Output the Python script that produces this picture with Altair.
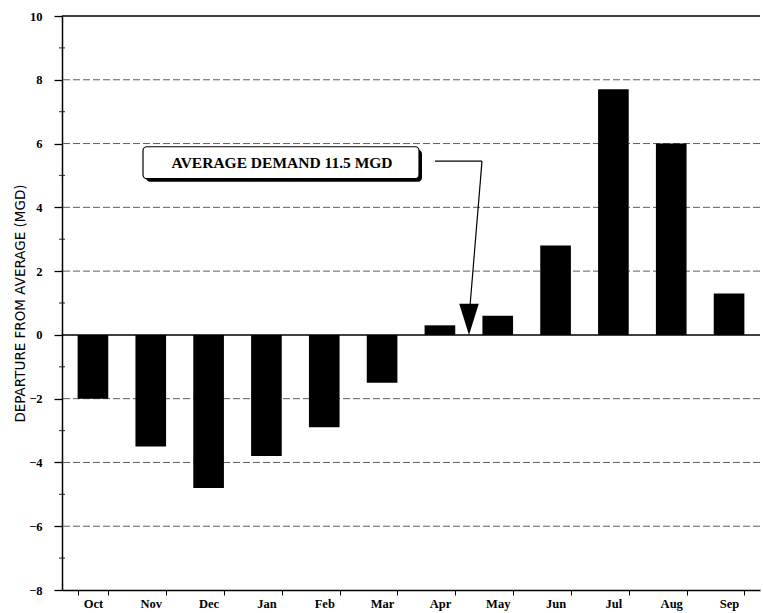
import altair as alt
import pandas as pd

months = ["Oct", "Nov", "Dec", "Jan", "Feb", "Mar", "Apr", "May", "Jun", "Jul", "Aug", "Sep"]
departure = [-2.0, -3.5, -4.8, -3.8, -2.9, -1.5, 0.3, 0.6, 2.8, 7.7, 6.0, 1.3]
y_ticks = [-8, -6, -4, -2, 0, 2, 4, 6, 8, 10]
minor_ticks = [-7, -5, -3, -1, 1, 3, 5, 7, 9]
grid_levels = [-6, -4, -2, 2, 4, 6, 8]
annotation_text = "AVERAGE DEMAND 11.5 MGD"

df = pd.DataFrame({"month": months, "value": departure})
grid_df = pd.DataFrame({"g": grid_levels})
minor_df = pd.DataFrame({"m": minor_ticks})

SERIF = "Liberation Serif"

y_scale = alt.Scale(domain=[-8, 10], nice=False, zero=False)
x_scale = alt.Scale(domain=months, paddingInner=0.47, paddingOuter=0.27)

bars = alt.Chart(df).mark_bar(color="black").encode(
    x=alt.X("month:N", scale=x_scale, sort=months,
            axis=alt.Axis(title=None, labelAngle=0, labelFont=SERIF, labelFontWeight="bold",
                          labelFontSize=12.5, labelColor="black", domainColor="black",
                          domainWidth=1.5, tickColor="black", tickSize=5, tickBand="extent",
                          labelPadding=2)),
    y=alt.Y("value:Q", scale=y_scale,
            axis=alt.Axis(title="DEPARTURE FROM AVERAGE (MGD)", values=y_ticks, grid=False,
                          labelFont=SERIF, labelFontWeight="bold", labelFontSize=12.5,
                          labelColor="black", titleFont="DejaVu Sans", titleFontSize=13.5,
                          titleFontWeight="normal", titleColor="black", titlePadding=1,
                          domainColor="black", domainWidth=1.5, tickColor="black",
                          tickSize=8, tickWidth=1.3, labelPadding=12)),
    y2=alt.datum(0),
)

minor = alt.Chart(minor_df).mark_tick(color="black", thickness=1.2, size=6, orient="horizontal").encode(
    y=alt.Y("m:Q", scale=y_scale), x=alt.value(0),
)

grid = alt.Chart(grid_df).mark_rule(color="#333333", strokeWidth=0.8, strokeDash=[7, 3]).encode(
    y=alt.Y("g:Q", scale=y_scale),
)

zero_line = alt.Chart(pd.DataFrame({"z": [0]})).mark_rule(color="black", strokeWidth=1.5).encode(
    y=alt.Y("z:Q", scale=y_scale),
)

top_line = alt.Chart(pd.DataFrame({"t": [10]})).mark_rule(color="black", strokeWidth=1.5).encode(
    y=alt.Y("t:Q", scale=y_scale),
)

ann = pd.DataFrame({"top": [5.9], "bottom": [4.9], "mid": [5.4], "label": [annotation_text],
                    "arrow_top": [5.45], "arrow_base": [0.9], "tip": [0.0]})

box_shadow = alt.Chart(ann).mark_rect(color="black", cornerRadius=4, xOffset=3, x2Offset=3,
                                      yOffset=3, y2Offset=3).encode(
    x=alt.value(81), x2=alt.value(357),
    y=alt.Y("top:Q", scale=y_scale), y2="bottom:Q",
)
box = alt.Chart(ann).mark_rect(fill="white", stroke="black", strokeWidth=1.2, cornerRadius=4).encode(
    x=alt.value(81), x2=alt.value(357),
    y=alt.Y("top:Q", scale=y_scale), y2="bottom:Q",
)
box_text = alt.Chart(ann).mark_text(font=SERIF, fontWeight="bold", fontSize=15.5, color="black",
                                    baseline="middle", align="center").encode(
    x=alt.value(220), y=alt.Y("mid:Q", scale=y_scale), text="label:N",
)
arrow_h = alt.Chart(ann).mark_rule(color="black", strokeWidth=1.2).encode(
    x=alt.value(373), x2=alt.value(420), y=alt.Y("arrow_top:Q", scale=y_scale),
)
arrow_v = alt.Chart(ann).mark_rule(color="black", strokeWidth=1.2).encode(
    x=alt.value(420), x2=alt.value(408),
    y=alt.Y("arrow_top:Q", scale=y_scale), y2="arrow_base:Q",
)
arrow_head = alt.Chart(ann).mark_point(shape="M-0.65,-2.07L0.65,-2.07L0,0Z", filled=True,
                                       color="black", opacity=1, size=900).encode(
    x=alt.value(407), y=alt.Y("tip:Q", scale=y_scale),
)

chart = alt.layer(
    grid, top_line, bars, zero_line, minor, box_shadow, box, box_text, arrow_h, arrow_v, arrow_head
).properties(
    width=698, height=574,
    autosize=alt.AutoSizeParams(type="none"),
    padding={"left": 62, "top": 16, "right": 3, "bottom": 23},
    background="white",
).configure_view(stroke=None)

chart.save("out.html", embed_options={"renderer": "svg", "actions": False})
